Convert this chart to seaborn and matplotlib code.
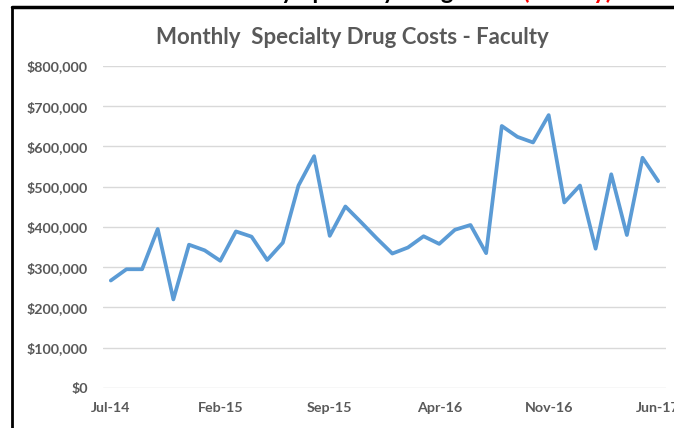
import numpy as np
import pandas as pd
import matplotlib.pyplot as plt
import seaborn as sns
from matplotlib.lines import Line2D
from matplotlib.ticker import FuncFormatter

# Monthly costs, Jul-14 .. Jun-17
months = pd.date_range('2014-07-01', periods=36, freq='MS').strftime('%b-%y').tolist()
costs = [267000, 295000, 295000, 395000, 220000, 356000, 342000, 316000, 389000, 376000,
         318000, 361000, 503000, 576000, 378000, 451000, 412000, 372000, 334000, 349000,
         377000, 358000, 393000, 405000, 335000, 651000, 624000, 610000, 678000, 461000,
         503000, 346000, 531000, 380000, 572000, 514000]
tick_every = 7

df = pd.DataFrame({'idx': np.arange(len(months)), 'month': months, 'cost': costs})

sns.set_style('white')
plt.rcParams['font.family'] = ['Lato', 'DejaVu Sans']

fig = plt.figure(figsize=(6.74, 4.28), dpi=100)
ax = fig.add_axes([0.1528, 0.0935, 0.8353, 0.7523])

sns.lineplot(data=df, x='idx', y='cost', ax=ax, color='#5B9BD5', linewidth=2.7)

ax.set_xlim(-0.5, len(months) - 0.5)
ax.set_ylim(0, 800000)
ax.set_yticks(np.arange(0, 800001, 100000))
ax.yaxis.set_major_formatter(FuncFormatter(lambda v, p: f'${v:,.0f}'))
ticks = df['idx'][::tick_every]
ax.set_xticks(ticks)
ax.set_xticklabels(df['month'][::tick_every])

ax.grid(axis='y', color='#D9D9D9', linewidth=1)
ax.set_axisbelow(True)
for s in ax.spines.values():
    s.set_visible(False)
ax.tick_params(axis='both', length=0, labelsize=10.3, labelcolor='#595959')
ax.tick_params(axis='y', pad=11)
ax.tick_params(axis='x', pad=10)
for lbl in ax.get_xticklabels() + ax.get_yticklabels():
    lbl.set_fontweight('bold')
ax.set_xlabel('')
ax.set_ylabel('')

fig.text(0.523, 0.913, 'Monthly  Specialty Drug Costs - Faculty', ha='center', va='center',
         fontsize=16, fontweight='bold', color='#595959')

# slide frame and the cut-off heading above it
fig.add_artist(Line2D([12.5 / 674, 12.5 / 674], [0, 1 - 7 / 428], color='black', linewidth=2))
fig.add_artist(Line2D([12.5 / 674, 1], [1 - 7 / 428, 1 - 7 / 428], color='black', linewidth=2.5))
fig.text(518 / 674, 1 + 1 / 428, 'Monthly Specialty Drug Costs', ha='right', va='baseline',
         fontsize=17, fontweight='bold', color='black')
fig.text(522 / 674, 1 + 1 / 428, '(Faculty)', ha='left', va='baseline',
         fontsize=17, fontweight='bold', color='red')

plt.savefig('out.png', dpi=100)
